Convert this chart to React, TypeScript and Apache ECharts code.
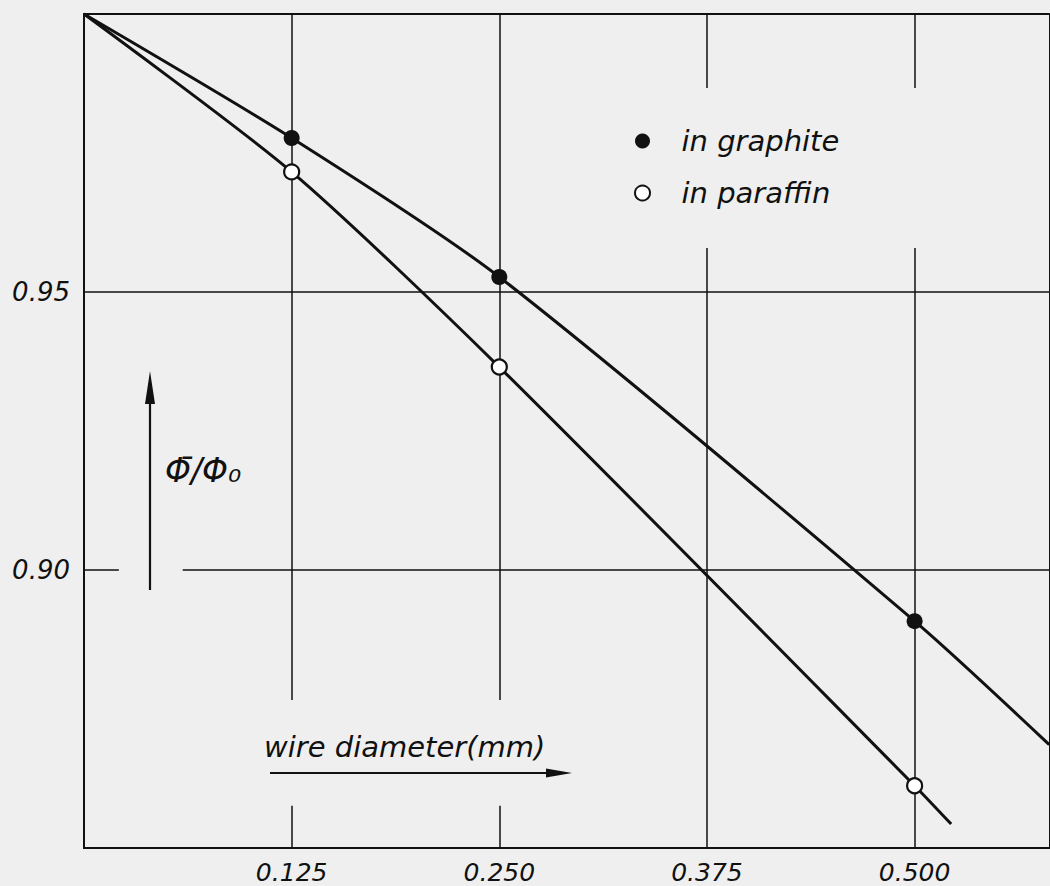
import React, { useEffect, useRef } from "react";
import * as echarts from "echarts";

// ---- data ----
const xTickValues = [0.125, 0.25, 0.375, 0.5];
const xTickLabels = ["0.125", "0.250", "0.375", "0.500"];
const yTickValues = [0.95, 0.9];
const yTickLabels = ["0.95", "0.90"];

const origin = [0, 1.0];
const diameters = [0.125, 0.25, 0.5];
const graphiteValues = [0.9777, 0.9527, 0.8908];
const paraffinValues = [0.9716, 0.9365, 0.8612];
// where the drawn curves end
const graphiteEnd = [0.581, 0.8686];
const paraffinEnd = [0.522, 0.8543];

const seriesNames = ["in graphite", "in paraffin"];

const INK = "#111111";
const FONT = "DejaVu Sans";

export default function App() {
  const ref = useRef<HTMLDivElement>(null);

  useEffect(() => {
    if (!ref.current) return;
    const chart = echarts.init(ref.current, undefined, { renderer: "svg" });

    const pts = (vals: number[]) => diameters.map((d, i) => [d, vals[i]]);
    const graphiteCurve = [origin, ...pts(graphiteValues), graphiteEnd];
    const paraffinCurve = [origin, ...pts(paraffinValues), paraffinEnd];

    const X_MAX = 0.5815;
    const seg = (a: number[], b: number[]) => [{ coord: a }, { coord: b }];
    const gridSegments = [
      seg([0.125, 1.0], [0.125, 0.8766]),
      seg([0.125, 0.8576], [0.125, 0.85]),
      seg([0.25, 1.0], [0.25, 0.8766]),
      seg([0.25, 0.8576], [0.25, 0.85]),
      seg([0.375, 1.0], [0.375, 0.9867]),
      seg([0.375, 0.9579], [0.375, 0.85]),
      seg([0.5, 1.0], [0.5, 0.9867]),
      seg([0.5, 0.9579], [0.5, 0.85]),
      seg([0, 0.95], [X_MAX, 0.95]),
      seg([0, 0.9], [0.021, 0.9]),
      seg([0.0594, 0.9], [X_MAX, 0.9]),
    ];

    const pick = (vals: number[], labels: string[]) => (v: number) => {
      const i = vals.findIndex((t) => Math.abs(t - v) < 1e-6);
      return i >= 0 ? labels[i] : "";
    };

    chart.setOption({
      animation: false,
      backgroundColor: "#efefef",
      grid: {
        left: 84,
        top: 14,
        right: -4,
        bottom: 38,
        show: true,
        borderColor: INK,
        borderWidth: 2,
        backgroundColor: "transparent",
      },
      xAxis: {
        type: "value",
        min: 0,
        max: X_MAX,
        interval: 0.125,
        axisLine: { show: false },
        axisTick: { show: false },
        splitLine: { show: false },
        axisLabel: {
          formatter: pick(xTickValues, xTickLabels),
          fontFamily: FONT,
          fontStyle: "italic",
          fontSize: 25,
          color: INK,
          margin: 12,
          showMaxLabel: false,
        },
      },
      yAxis: {
        type: "value",
        min: 0.85,
        max: 1.0,
        interval: 0.05,
        axisLine: { show: false },
        axisTick: { show: false },
        splitLine: { show: false },
        axisLabel: {
          formatter: pick(yTickValues, yTickLabels),
          fontFamily: FONT,
          fontStyle: "italic",
          fontSize: 26,
          color: INK,
          margin: 14,
        },
      },
      legend: {
        orient: "vertical",
        left: 629,
        top: 121,
        itemWidth: 40,
        itemHeight: 15,
        itemGap: 22,
        data: seriesNames,
        selectedMode: false,
        textStyle: {
          fontFamily: FONT,
          fontStyle: "italic",
          fontSize: 29,
          lineHeight: 30,
          color: INK,
          padding: [0, 0, 0, 14],
        },
      },
      graphic: [
        // y-axis quantity with upward arrow
        { type: "line", shape: { x1: 150, y1: 590, x2: 150, y2: 395 }, style: { stroke: INK, lineWidth: 2.2 } },
        { type: "polygon", shape: { points: [[150, 371], [145, 404], [155, 404]] }, style: { fill: INK } },
        {
          type: "text",
          x: 165,
          y: 470,
          style: {
            text: "Φ̄/Φ₀",
            font: `italic 33px "${FONT}"`,
            fill: INK,
            verticalAlign: "middle",
          },
        },
        // x-axis quantity with rightward arrow
        {
          type: "text",
          x: 264,
          y: 747,
          style: {
            text: "wire diameter(mm)",
            font: `italic 29px "${FONT}"`,
            fill: INK,
            verticalAlign: "middle",
          },
        },
        { type: "line", shape: { x1: 270, y1: 773, x2: 552, y2: 773 }, style: { stroke: INK, lineWidth: 2.2 } },
        { type: "polygon", shape: { points: [[572, 773], [546, 768.5], [546, 777.5]] }, style: { fill: INK } },
      ],
      series: [
        {
          type: "line",
          name: "grid",
          data: [],
          silent: true,
          z: 1,
          markLine: {
            silent: true,
            symbol: ["none", "none"],
            label: { show: false },
            lineStyle: { color: INK, width: 1.5, type: "solid" },
            emphasis: { disabled: true },
            data: gridSegments,
          },
        },
        {
          type: "line",
          name: "graphite curve",
          data: graphiteCurve,
          smooth: 0.25,
          showSymbol: false,
          silent: true,
          z: 3,
          lineStyle: { color: INK, width: 3 },
        },
        {
          type: "line",
          name: "paraffin curve",
          data: paraffinCurve,
          smooth: 0.25,
          showSymbol: false,
          silent: true,
          z: 3,
          lineStyle: { color: INK, width: 3 },
        },
        {
          type: "scatter",
          name: seriesNames[0],
          data: pts(graphiteValues),
          symbol: "circle",
          symbolSize: 16,
          z: 5,
          itemStyle: { color: INK, opacity: 1 },
        },
        {
          type: "scatter",
          name: seriesNames[1],
          data: pts(paraffinValues),
          symbol: "circle",
          symbolSize: 15,
          z: 5,
          itemStyle: { color: "#ffffff", borderColor: INK, borderWidth: 2.2, opacity: 1 },
        },
      ],
    });

    return () => chart.dispose();
  }, []);

  return (
    <div
      ref={ref}
      style={{ position: "fixed", left: 0, top: 0, width: 1050, height: 886 }}
    />
  );
}
